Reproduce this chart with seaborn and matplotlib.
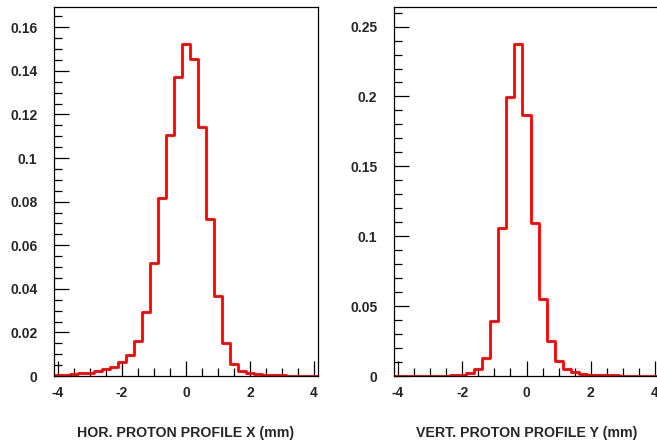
import numpy as np
import pandas as pd
import matplotlib
matplotlib.use("Agg")
import matplotlib.pyplot as plt
from matplotlib.ticker import MultipleLocator, FormatStrFormatter
import seaborn as sns

# ---- data (bin centres in mm, normalised counts) ----
x_centers = [-4.0, -3.75, -3.5, -3.25, -3.0, -2.75, -2.5, -2.25, -2.0, -1.75,
             -1.5, -1.25, -1.0, -0.75, -0.5, -0.25, 0.0, 0.25, 0.5, 0.75,
             1.0, 1.25, 1.5, 1.75, 2.0, 2.25, 2.5, 2.75, 3.0, 3.25, 3.5, 3.75, 4.0]
x_values = [0.0003, 0.0005, 0.0008, 0.0012, 0.0016, 0.0021, 0.0030, 0.0043, 0.0066, 0.0098,
            0.0162, 0.0292, 0.0519, 0.0815, 0.1107, 0.1370, 0.1525, 0.1455, 0.1141, 0.0720,
            0.0367, 0.0153, 0.0055, 0.0025, 0.0012, 0.0007, 0.0005, 0.0004, 0.0003, 0.0002,
            0.0002, 0.0001, 0.0001]

y_centers = x_centers
y_values = [0.0001, 0.0001, 0.0001, 0.0002, 0.0002, 0.0002, 0.0003, 0.0005, 0.0010, 0.0019,
            0.0048, 0.0127, 0.0396, 0.1060, 0.1994, 0.2378, 0.1867, 0.1098, 0.0552, 0.0251,
            0.0110, 0.0050, 0.0029, 0.0017, 0.0010, 0.0007, 0.0005, 0.0004, 0.0003, 0.0002,
            0.0002, 0.0001, 0.0001]

x_label = "HOR. PROTON PROFILE X (mm)"
y_label = "VERT. PROTON PROFILE Y (mm)"

sns.set_theme(style="ticks")
plt.rcParams['font.family'] = ['Liberation Sans', 'DejaVu Sans']
plt.rcParams['font.weight'] = 'bold'

W, H = 657, 445
fig = plt.figure(figsize=(W / 100, H / 100), dpi=100)
ax1 = fig.add_axes([54 / W, (H - 376) / H, 264 / W, 369 / H])
ax2 = fig.add_axes([394 / W, (H - 376) / H, 265 / W, 369 / H])


def draw(ax, centers, values, label, ymax, ymajor, yminor, yfmt):
    df = pd.DataFrame({"pos": centers, "w": values})
    sns.histplot(data=df, x="pos", weights="w", binwidth=0.25,
                 binrange=(-4.125, 4.125), element="step",
                 fill=False, color="#ff0000", linewidth=2.0, ax=ax)
    ax.set_xlim(-4.125, 4.125)
    ax.set_ylim(0, ymax)
    ax.xaxis.set_major_locator(MultipleLocator(2))
    ax.xaxis.set_minor_locator(MultipleLocator(0.5))
    ax.yaxis.set_major_locator(MultipleLocator(ymajor))
    ax.yaxis.set_minor_locator(MultipleLocator(yminor))
    ax.yaxis.set_major_formatter(FormatStrFormatter(yfmt))
    ax.xaxis.set_major_formatter(FormatStrFormatter('%g'))
    ax.tick_params(axis='both', which='major', direction='in', length=11, width=0.9,
                   labelsize=10, color='black')
    ax.tick_params(axis='both', which='minor', direction='in', length=6, width=0.9,
                   color='black')
    ax.tick_params(axis='x', which='major', pad=7)
    ax.tick_params(axis='y', which='major', pad=12)
    for lab in ax.get_xticklabels() + ax.get_yticklabels():
        lab.set_fontweight('bold')
    for s in ax.spines.values():
        s.set_visible(True)
        s.set_color('black')
        s.set_linewidth(0.9)
    ax.set_ylabel("")
    ax.set_xlabel(label, fontsize=10.2, fontweight='bold', labelpad=19)
    ax.set_facecolor('white')


draw(ax1, x_centers, x_values, x_label, 0.1693, 0.02, 0.005, '%g')
draw(ax2, y_centers, y_values, y_label, 0.264, 0.05, 0.01, '%g')

fig.savefig("out.png", dpi=100, facecolor='white')
